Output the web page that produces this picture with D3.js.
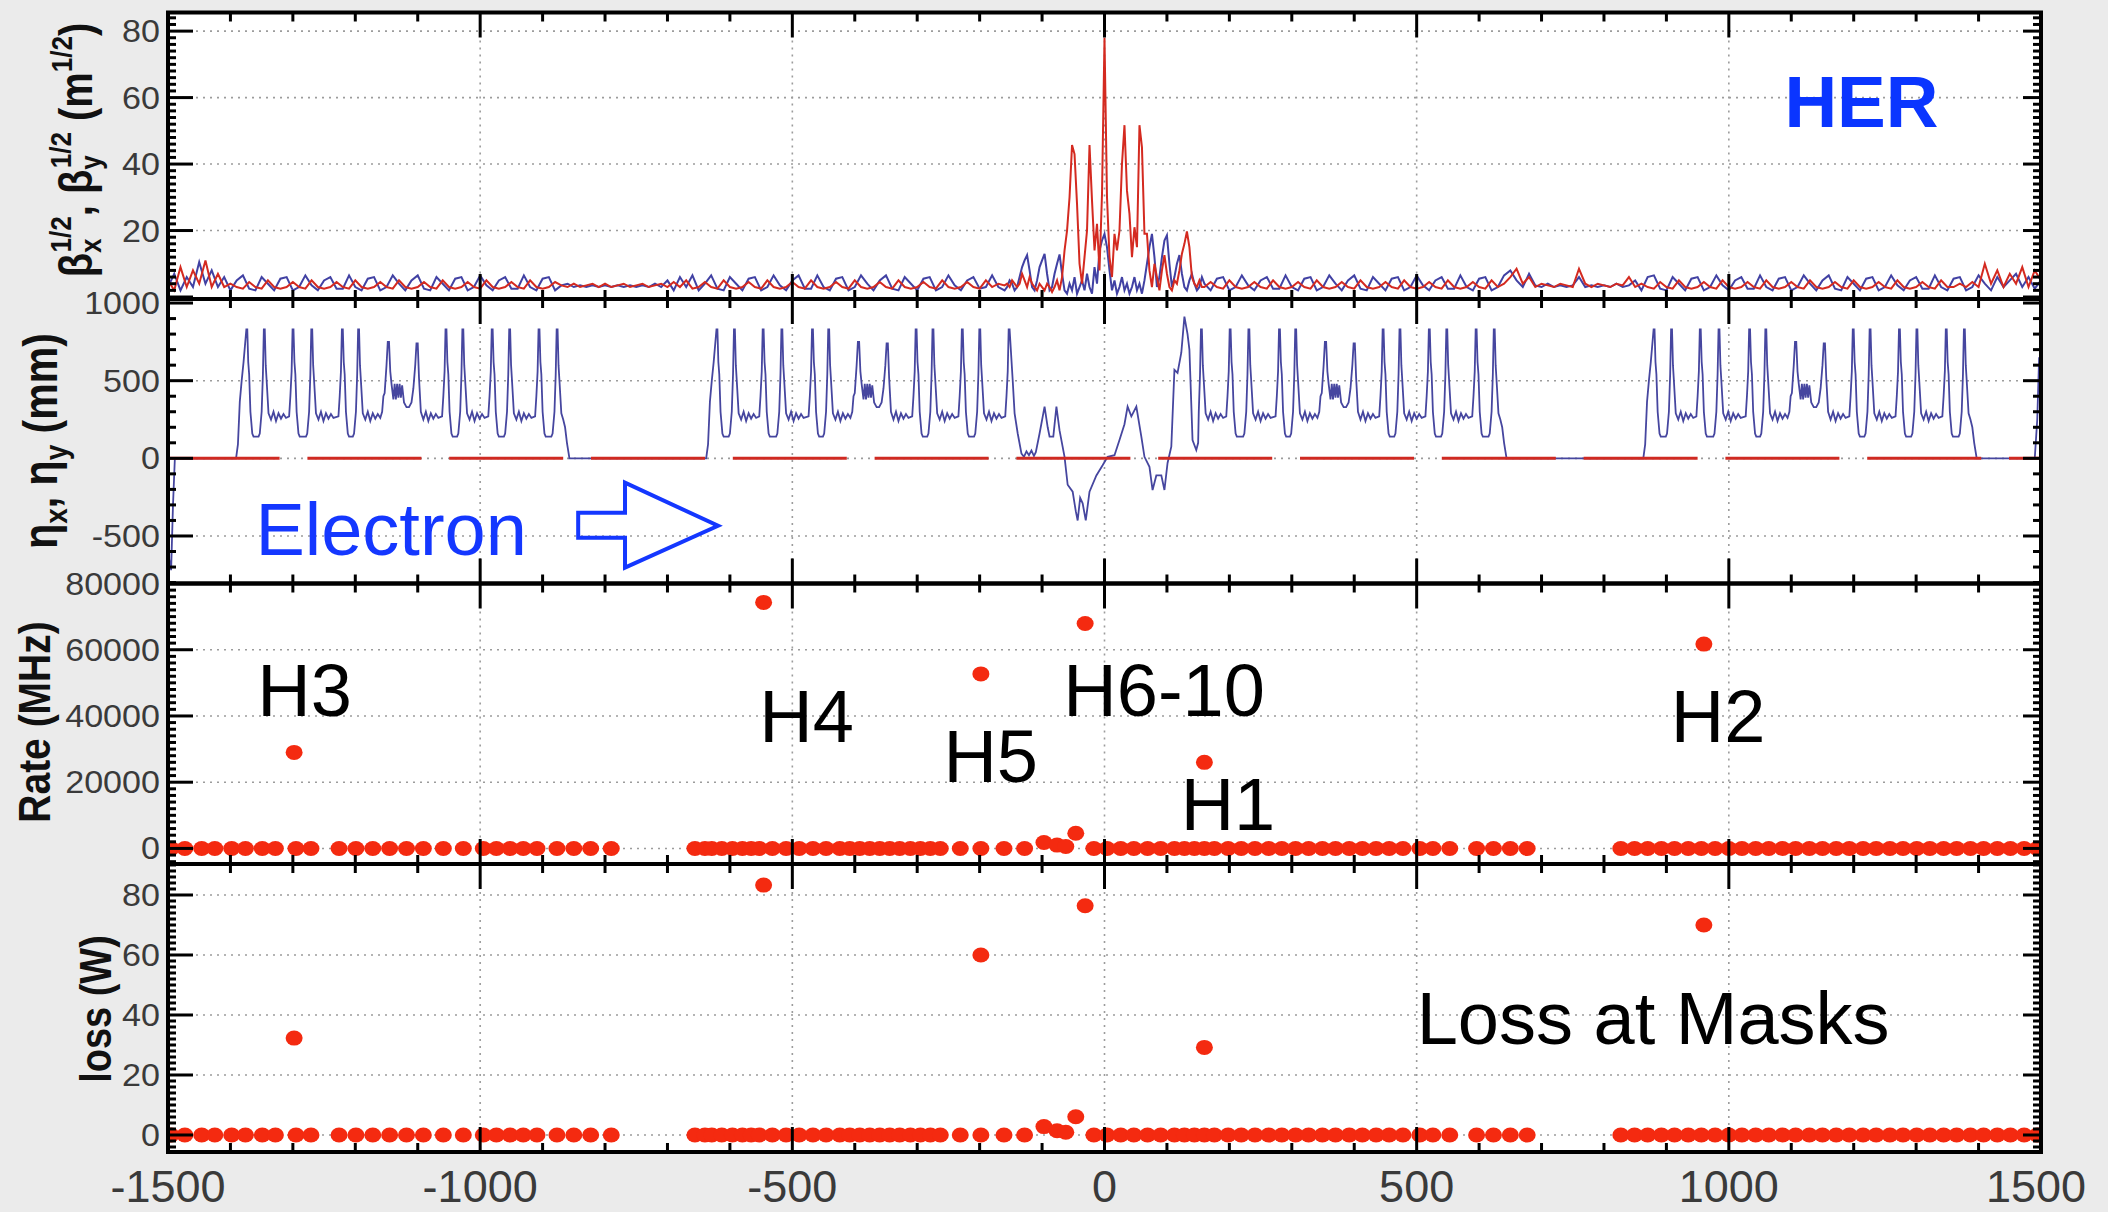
<!DOCTYPE html>
<html><head><meta charset="utf-8">
<script src="https://cdn.jsdelivr.net/npm/d3@7/dist/d3.min.js"></script>
<style>
html,body{margin:0;padding:0;background:#ebebeb;}
svg{display:block;}
</style></head><body>
<svg id="chart" width="2108" height="1212"></svg>
<script>
// ================= DATA =================
const xTickValues = [-1500, -1000, -500, 0, 500, 1000, 1500];
const betaTicks = [0, 20, 40, 60, 80];
const betaTickLabels = [20, 40, 60, 80];          // the "0" is hidden under "1000"
const etaTicks = [-500, 0, 500, 1000];
const rateTicks = [0, 20000, 40000, 60000, 80000];
const lossTicks = [0, 20, 40, 60, 80];

// sqrt(beta) (m^1/2): arcs sampled every 10 m, IR sampled every 4 m
const betaStep = 10, betaLeftStart = -1500, betaRightStart = 160;
const betaIPStart = -156, betaIPStep = 4;
const betaXLeft = [
 3,7,2,6,3,10.5,4,8,3,6,  2,5,6.5,2.5,2,6,4,2,5.5,6,  2,3,6.5,3.5,2,5,6,2.5,2.5,6.5,
 3,2,5.5,6,2,3,6.5,4,2,5,  6.5,2.5,2,6,4,2,5.5,6,2,3,  6.5,3.5,2,5,6,2.5,2.5,6.5,3,2,
 5.5,6,2,3.5,4,3,3.5,3,3.5,3,  3.5,3,3.5,3,3.5,3,3.5,3,4,3,  5,2,6,3,6.5,2,4,6.5,2.5,2,
 6,4,2,5.5,6,2,3,6.5,3.5,2,  5,6.5,2.5,2.5,6.5,3,2,5.5,6,2,  3,6.5,4,2,5,6.5,2.5,2,6,4,
 2,5.5,6,2,3,6.5,3.5,2,5,6,  2.5,3,6.5,3,2];
const betaYLeft = [
 5,2,9,3,8,4,11,3,7,3,  4,3,2.5,4.5,3,2.5,5,3,2.5,3,  4.5,3,2.5,5,3,2.5,3,4.5,3,2.5,
 5,3,2.5,3,4.5,3,2.5,5,3,2.5,  3,4.5,3,2.5,5,3,2.5,3,4.5,3,  2.5,5,3,2.5,3,4.5,3,2.5,5,3,
 2.5,3,4.5,3.5,3,4,3,3.5,4,3,  4,3,3.5,4,3,3.5,4,3,3.5,4,  3,4.5,3,5,2.5,3,4.5,3,2.5,5,
 3,2.5,3,4.5,3,2.5,5,3,2.5,3,  4.5,3,2.5,5,3,2.5,3,4.5,3,2.5,  5,3,2.5,3,4.5,3,2.5,5,3,2.5,
 3,4.5,3,2.5,5,3,2.5,3,4.5,3,  2.5,5,3,4,3.5];
const betaXRight = [
 4,2,5.5,6,2,3,6.5,3.5,2,5,  6,2.5,2.5,6.5,3,2,5.5,6,2,3,  6.5,4,2,5,6.5,2.5,2,6,4,2,
 5.5,6,2,3,6.5,3.5,2,5,6,2.5,  2.5,6.5,3,2,5.5,6,2,3,6.5,8,  5,3,7,3.5,3,4,3,3.5,3,3.5,
 6,3,3.5,3,3.5,3,4,3,3.5,5,  2,6,6.5,2.5,2,6,4,2,5.5,6,  2,3,6.5,3.5,2,5,6,2.5,2.5,6.5,
 3,2,5.5,6,2,3,6.5,4,2,5,  6.5,2.5,2,6,4,2,5.5,6,2,3,  6.5,3.5,2,5,6,2.5,2.5,6.5,3,2,
 5.5,6,2,3,6.5,4,2,6,3,5,  7,3,6,2.5,5];
const betaYRight = [
 3,4.5,3,2.5,5,3,2.5,3,4.5,3,  2.5,5,3,2.5,3,4.5,3,2.5,5,3,  2.5,3,4.5,3,2.5,5,3,2.5,3,4.5,
 3,2.5,5,3,2.5,3,4.5,3,2.5,5,  3,2.5,3,4.5,3,2.5,5,3,4,6,  8.5,4,6,3,4,3.5,3,4,3.5,3,
 8.5,4,3,4,3.5,3,4,3.5,6,3,  4,3,2.5,4.5,3,2.5,5,3,2.5,3,  4.5,3,2.5,5,3,2.5,3,4.5,3,2.5,
 5,3,2.5,3,4.5,3,2.5,5,3,2.5,  3,4.5,3,2.5,5,3,2.5,3,4.5,3,  2.5,5,3,2.5,3,4.5,3,2.5,5,3,
 3,4,3,4.5,3,10,4,8,3,7,  4,9,3,8,5];
const betaXIP = [
 3,5,4,2,3,6,9,11,12.6,8,  3,2,5,9,11,13,7,2,3,7,  10,12.8,7,2,1,4,2,6,1,3,
 5,2,7,3,1,9,4,14,17,19,  15,8,2,5,1,3,6,2,4,1,  3,6,2,4,1,5,10,15,19,12,
 3,6,12,17,18.6,10,3,6,10,12.6,  7,3,2,5,7,4,2,3,6];
const betaYIP = [
 4,3,5,4,3,4,7,5,3,6,  4,3,2,4,3,2,4,3,1.5,3,  5,2,6,14,20,30,45.7,43,28,10,
 4,12,20,45.7,29,14,22,8,31,78,  30,12,6,19,14,20,40,51.7,32,25,  12,21,15,51.7,45,19,19,8,3,10,
 6,2,8,12.6,7,3,2,5,4,8,  13,16,19.7,15,6,4,3,5,3];

// horizontal dispersion (mm): one arc section shape [offset from arc start, eta]
const etaArcShape = [[0,0],[3,90],[6,365],[9,500],[12,620],[16.5,830],[18,830],
 [19.5,620],[21,540],[23,300],[26,160],[28,140],[36,140],[38,160],[41,300],[43,540],[44.5,830],[46,830],[47.5,600],[49,500],[52,290],
 [56,250],[60,300],[64,240],[68,290],[72,255],[76,285],[80,260],[85,270],
 [87,400],[89,560],[90.5,830],[92,830],[93.5,620],[95,540],[97,300],[100,160],[102,140],[112,140],[114,160],[117,300],[119,540],[120.5,830],[122,830],[123.5,600],[125,500],[128,290],
 [132,250],[136,300],[140,240],[144,290],[148,255],[152,285],[156,260],[164,270],
 [166,400],[168,560],[169.5,830],[171,830],[172.5,620],[174,540],[176,300],[179,160],[181,140],[187,140],[189,160],[192,300],[194,540],[195.5,830],[197,830],[198.5,600],[200,500],[203,290],
 [207,250],[211,300],[215,240],[219,290],[223,255],[227,285],[231,260],[234,300],[236,400],[238,420],[241,600],[243,750],[245,750],[247,560],[249,480],[252,380],[254,480],[256,380],[258,480],[260,390],[262,480],[264,390],[266,470],[269,360],[273,330],[277,330],[281,360],[284,450],[287,600],[289,740],[291,740],[293,520],[296,300],
 [300,250],[304,300],[308,240],[312,290],[316,255],[320,285],[324,260],[330,270],
 [332,400],[334,560],[335.5,830],[337,830],[338.5,620],[340,540],[342,300],[345,160],[347,140],[354,140],[356,160],[359,300],[361,540],[362.5,830],[364,830],[365.5,600],[367,500],[370,290],
 [374,250],[378,300],[382,240],[386,290],[390,255],[394,285],[398,260],[404,270],
 [406,400],[408,560],[409.5,830],[411,830],[412.5,620],[414,540],[416,300],[419,160],[421,140],[429,140],[431,160],[434,300],[436,540],[437.5,830],[439,830],[440.5,600],[442,500],[445,290],
 [449,250],[453,300],[457,240],[461,290],[465,255],[469,285],[473,260],[479,270],
 [481,400],[483,560],[484.5,830],[486,830],[487.5,620],[489,540],[491,300],[494,160],[496,140],[505,140],[507,160],[510,300],[512,540],[513.5,830],[515,830],[516.5,600],[518,500],[521,290],[524,250],[527,200],[530,100],[534,0]];
const arcOrigin = [-1391, -638, 110, 863];
const arcFrom = [0, 0, 41, 0];
const arcTo = [534, 486, 534, 534];
const etaIR = [[-147,500],[-144,290],[-139,160],[-133,30],[-129,10],[-125,45],[-121,20],[-117,50],[-113,15],[-110,40],[-104,160],[-96,333],[-91,200],[-88,140],[-82,140],[-77,333],[-72,180],[-64,10],[-59,-170],[-51,-215],[-46,-340],[-43,-400],[-39,-255],[-35,-290],[-30,-400],[-24,-215],[-13,-110],[-3,-45],[5,10],[16,20],[24,118],[32,220],[37,333],[43,270],[51,333],[59,140],[64,10],[72,-55],[77,-204],[83,-110],[91,-110],[96,-204],[101,-30],[107,75],[112,570],[117,550],[123,680],[128,913],[133,800],[136,700],[141,118],[147,54],[150,100]];
const etaEdgeLeft = [[-1500,0],[-1498,-650],[-1495,-720],[-1492,-300],[-1489,0]];
const etaEdgeRight = [[1490,0],[1494,250],[1497,650],[1500,600]];
const etaY = [[-1500,0],[1500,0]];

// masks: positions (m) with ~zero rate / loss
const zeroMaskS = [-1495,-1473,-1446,-1425,-1398,-1376,-1349,-1328,-1295,-1271,
 -1226,-1199,-1172,-1145,-1118,-1091,-1059,-1027,
 -995,-974,-952,-931,-909,-877,-850,-823,-790,
 -656,-640,-629,-613,-596,-580,-566,-553,-532,-510,-489,-467,-446,-424,-408,-392,-376,-360,-344,-328,-311,-295,-279,-263,-231,-198,
 -161,-128,
 -17,4,26,47,69,90,112,128,144,160,176,198,219,241,263,284,306,327,349,370,392,413,435,456,478,505,526,553,596,623,650,677,
 827,849,870,892,913,935,956,978,1000,1021,1043,1064,1086,1107,1129,1150,1172,1193,1215,1236,1258,1279,1301,1322,1344,1365,1387,1408,1430,1451,1473,1494];
const hotMaskS = [-1298, -546, -198, -97, -76, -62, -46, -31, 160, 960];
const hotRate  = [29000, 74300, 52700, 1800, 1000, 600, 4600, 67900, 26000, 61700];
const hotLoss  = [32.3, 83.3, 60, 2.8, 1.4, 0.9, 6.1, 76.4, 29.2, 70];

// annotations (data coordinates)
const maskLabels = ["H3", "H4", "H5", "H6-10", "H1", "H2"];
const maskLabelS = [-1357, -553, -258, -66, 122, 907];
const maskLabelRate = [39900, 32100, 20000, 40000, 5500, 32100];

// ================= DRAWING =================
const FONT = "'Liberation Sans', Arial, Helvetica, sans-serif";
const svg = d3.select('#chart');
svg.append('rect').attr('width', 2108).attr('height', 1212).attr('fill', '#ebebeb');

const x = d3.scaleLinear().domain([-1500, 1500]).range([168, 2041]);
const panels = [
  {id:'b', y:d3.scaleLinear().domain([-0.6, 85.6]).range([299, 12.5]), ticks:betaTicks, labels:betaTickLabels, minor:d3.range(0, 86, 2)},
  {id:'e', y:d3.scaleLinear().domain([-806, 1026]).range([583.5, 299]), ticks:etaTicks, labels:etaTicks, minor:d3.range(-800, 1001, 100)},
  {id:'r', y:d3.scaleLinear().domain([-4700, 80000]).range([864, 583.5]), ticks:rateTicks, labels:rateTicks, minor:d3.range(-4000, 80001, 2000)},
  {id:'l', y:d3.scaleLinear().domain([-5.67, 90.33]).range([1152, 864]), ticks:lossTicks, labels:lossTicks, minor:d3.range(-4, 91, 2)}
];
const [X0, X1] = x.range();
const xMinor = d3.range(-1500, 1501, 100);
const xGrid = [-1000, -500, 0, 500, 1000];
const fmt = v => String(v);   // plain hyphen-minus as in the original

const defs = svg.append('defs');
panels.forEach(p => {
  const [yb, yt] = p.y.range();
  defs.append('clipPath').attr('id', 'clip-' + p.id)
    .append('rect').attr('x', X0).attr('y', yt).attr('width', X1 - X0).attr('height', yb - yt);
  svg.append('rect').attr('x', X0).attr('y', yt).attr('width', X1 - X0).attr('height', yb - yt).attr('fill', '#fff');
});

// grids
panels.forEach(p => {
  const [yb, yt] = p.y.range();
  const g = svg.append('g').attr('stroke', '#9c9c9c').attr('stroke-width', 1.6).attr('stroke-dasharray', '2,5');
  p.ticks.forEach(t => {
    const yy = p.y(t);
    if (yy < yt + 6 || yy > yb - 3) return;
    g.append('line').attr('x1', X0).attr('x2', X1).attr('y1', yy).attr('y2', yy);
  });
  xGrid.forEach(t => g.append('line').attr('x1', x(t)).attr('x2', x(t)).attr('y1', yt).attr('y2', yb));
});

// ---- panel 1 : sqrt(beta)
const pB = panels[0];
const betaX = [], betaYs = [];
betaXLeft.forEach((v, i) => betaX.push([betaLeftStart + i * betaStep, v]));
betaXIP.forEach((v, i) => betaX.push([betaIPStart + i * betaIPStep, v]));
betaXRight.forEach((v, i) => betaX.push([betaRightStart + i * betaStep, v]));
betaYLeft.forEach((v, i) => betaYs.push([betaLeftStart + i * betaStep, v]));
betaYIP.forEach((v, i) => betaYs.push([betaIPStart + i * betaIPStep, v]));
betaYRight.forEach((v, i) => betaYs.push([betaRightStart + i * betaStep, v]));
const lineB = d3.line().x(d => x(d[0])).y(d => pB.y(d[1]));
const gB = svg.append('g').attr('clip-path', 'url(#clip-b)').attr('fill', 'none');
gB.append('path').attr('d', lineB(betaX)).attr('stroke', '#4141a3').attr('stroke-width', 2);
gB.append('path').attr('d', lineB(betaYs)).attr('stroke', '#d42a20').attr('stroke-width', 2);

// ---- panel 2 : dispersion
const pE = panels[1];
const etaX = [];
etaEdgeLeft.forEach(d => etaX.push(d));
arcOrigin.forEach((o, i) => etaArcShape.forEach(([ds, v]) => {
  if (ds >= arcFrom[i] && ds <= arcTo[i]) etaX.push([o + ds, v]);
}));
etaIR.forEach(d => etaX.push(d));
etaEdgeRight.forEach(d => etaX.push(d));
etaX.sort((a, b) => a[0] - b[0]);
const lineE = d3.line().x(d => x(d[0])).y(d => pE.y(d[1]));
const gE = svg.append('g').attr('clip-path', 'url(#clip-e)').attr('fill', 'none');
gE.append('path').attr('d', lineE(etaX)).attr('stroke', '#46469f').attr('stroke-width', 1.8);
gE.append('path').attr('d', lineE(etaY)).attr('stroke', '#cf2a22').attr('stroke-width', 3)
  .attr('stroke-dasharray', '114,27.8').attr('stroke-dashoffset', 2.4);

// ---- panels 3,4 : masks
[[panels[2], hotRate], [panels[3], hotLoss]].forEach(([p, hot]) => {
  const g = svg.append('g').attr('clip-path', 'url(#clip-' + p.id + ')').attr('fill', '#f42a10');
  zeroMaskS.forEach(s => g.append('ellipse').attr('cx', x(s)).attr('cy', p.y(0)).attr('rx', 8.5).attr('ry', 7.5));
  hotMaskS.forEach((s, i) => g.append('ellipse').attr('cx', x(s)).attr('cy', p.y(hot[i])).attr('rx', 8.5).attr('ry', 7.5));
});

// frames and ticks
panels.forEach(p => {
  const [yb, yt] = p.y.range();
  const g = svg.append('g').attr('stroke', '#000').attr('stroke-width', 3);
  xMinor.forEach(t => {
    const len = (t % 500 === 0) ? 25 : 9;
    g.append('line').attr('x1', x(t)).attr('x2', x(t)).attr('y1', yt).attr('y2', yt + len);
    g.append('line').attr('x1', x(t)).attr('x2', x(t)).attr('y1', yb).attr('y2', yb - len);
  });
  p.minor.forEach(t => {
    const yy = p.y(t);
    if (yy < yt || yy > yb) return;
    const major = p.ticks.includes(t);
    g.append('line').attr('x1', X0).attr('x2', X0 + (major ? 25 : 8)).attr('y1', yy).attr('y2', yy);
    g.append('line').attr('x1', X1).attr('x2', X1 - (major ? 18 : 8)).attr('y1', yy).attr('y2', yy);
  });
  svg.append('rect').attr('x', X0).attr('y', yt).attr('width', X1 - X0).attr('height', yb - yt)
    .attr('fill', 'none').attr('stroke', '#000').attr('stroke-width', 4);
});

// y tick labels
panels.forEach(p => {
  p.labels.forEach(t => {
    svg.append('text').attr('transform', `translate(160,${p.y(t) + 11}) scale(1.1,1)`)
      .attr('text-anchor', 'end').attr('font-family', FONT).attr('font-size', 31).attr('fill', '#3a3a3a')
      .text(fmt(t));
  });
});
// x tick labels
xTickValues.forEach(t => {
  const tx = svg.append('text').attr('transform', `translate(${x(t)},1202) scale(1.0,1)`)
    .attr('text-anchor', 'middle').attr('font-family', FONT).attr('font-size', 45).attr('fill', '#3a3a3a')
    .text(fmt(t));
  const bb = tx.node().getBBox();
  const right = x(t) + bb.width / 2;
  if (right > 2086) tx.attr('transform', `translate(${x(t) - (right - 2086)},1202) scale(1.0,1)`);
});

// y axis labels
function yLabel(cx, cy, size) {
  return svg.append('text').attr('transform', `translate(${cx},${cy}) rotate(-90) scale(1,1.15)`)
    .attr('text-anchor', 'middle').attr('font-family', FONT).attr('font-weight', 'bold')
    .attr('font-size', size).attr('fill', '#111');
}
const lb = yLabel(92, 150, 40);
lb.append('tspan').text('β');
lb.append('tspan').attr('font-size', 26).attr('dy', 8).text('x');
lb.append('tspan').attr('font-size', 26).attr('dx', -14).attr('dy', -26).text('1/2');
lb.append('tspan').attr('dy', 18).text(', β');
lb.append('tspan').attr('font-size', 26).attr('dy', 8).text('y');
lb.append('tspan').attr('font-size', 26).attr('dx', -13).attr('dy', -26).text('1/2');
lb.append('tspan').attr('dy', 18).text(' (m');
lb.append('tspan').attr('font-size', 26).attr('dy', -17).text('1/2');
lb.append('tspan').attr('dy', 17).text(')');

const le = yLabel(57, 441, 41);
le.append('tspan').text('η');
le.append('tspan').attr('font-size', 28).attr('dy', 9).text('x');
le.append('tspan').attr('dy', -9).text(', η');
le.append('tspan').attr('font-size', 28).attr('dy', 9).text('y');
le.append('tspan').attr('dy', -9).text(' (mm)');

yLabel(50, 722, 39).text('Rate (MHz)');
yLabel(111, 1009, 38).text('loss (W)');

// annotations
const pR = panels[2], pL = panels[3];
maskLabels.forEach((t, i) => {
  svg.append('text').attr('x', x(maskLabelS[i])).attr('y', pR.y(maskLabelRate[i]))
    .attr('font-family', FONT).attr('font-size', 74).attr('fill', '#000').text(t);
});
svg.append('text').attr('x', x(500)).attr('y', pL.y(30.3))
  .attr('font-family', FONT).attr('font-size', 74).attr('fill', '#000').text('Loss at Masks');
svg.append('text').attr('x', x(-1360)).attr('y', pE.y(-620))
  .attr('font-family', FONT).attr('font-size', 74).attr('fill', '#1437ff').text('Electron');
svg.append('text').attr('x', x(1089)).attr('y', pB.y(51.3))
  .attr('font-family', FONT).attr('font-weight', 'bold').attr('font-size', 73).attr('fill', '#0a35ff').text('HER');

// hollow arrow (data coordinates of panel 2)
const arrowS = [-843, -768, -768, -619, -768, -768, -843];
const arrowEta = [-350, -350, -157, -434, -704, -511, -511];
svg.append('path')
  .attr('d', d3.line().x((d, i) => x(arrowS[i])).y((d, i) => pE.y(arrowEta[i])).curve(d3.curveLinearClosed)(arrowS))
  .attr('fill', 'none').attr('stroke', '#1437ff').attr('stroke-width', 4).attr('stroke-linejoin', 'miter');
</script>
</body></html>
